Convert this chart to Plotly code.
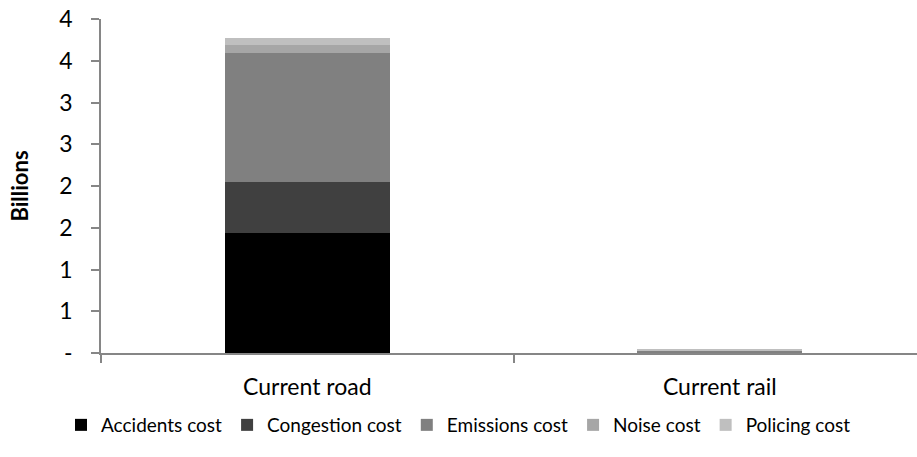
import plotly.graph_objects as go

# Cost categories (billions) for each transport option
modes = ["Current road", "Current rail"]
series_names = ["Accidents cost", "Congestion cost", "Emissions cost", "Noise cost", "Policing cost"]
accidents = [1.44, 0.002]
congestion = [0.61, 0.0]
emissions = [1.54, 0.022]
noise = [0.10, 0.006]
policing = [0.085, 0.008]
colors = ["#000000", "#404040", "#808080", "#A6A6A6", "#BFBFBF"]

y_ticks = [0, 0.5, 1, 1.5, 2, 2.5, 3, 3.5, 4]
y_tick_text = ["-", "1", "1", "2", "2", "3", "3", "4", "4"]

FONT = "Lato, Carlito, Calibri, sans-serif"
FS = 23
AXIS_GRAY = "#868686"

positions = list(range(len(modes)))
fig = go.Figure()
for name, vals, col in zip(series_names, [accidents, congestion, emissions, noise, policing], colors):
    fig.add_trace(go.Bar(
        x=positions, y=vals, name=name, width=0.4,
        marker=dict(color=col, line=dict(width=0)),
    ))

fig.update_layout(
    barmode="stack",
    width=917, height=457,
    margin=dict(l=101, r=0, t=19, b=104, autoexpand=False),
    plot_bgcolor="white", paper_bgcolor="white",
    font=dict(family=FONT, size=FS, color="#000000"),
    showlegend=True,
    legend=dict(
        orientation="h", x=0.5, xref="container", xanchor="center",
        y=0.07, yref="container", yanchor="middle",
        font=dict(size=19), itemsizing="constant",
        traceorder="normal", itemwidth=30, tracegroupgap=0,
        bgcolor="rgba(0,0,0,0)",
    ),
    xaxis=dict(
        range=[-0.5, 1.478], tickvals=positions, ticktext=modes,
        ticks="", showgrid=False, zeroline=False,
        showline=True, linecolor=AXIS_GRAY, linewidth=1.5,
        ticklabelstandoff=13,
        minor=dict(tick0=-0.5, dtick=1, ticks="outside", ticklen=8,
                   tickcolor=AXIS_GRAY, tickwidth=1.5, showgrid=False),
    ),
    yaxis=dict(
        range=[0, 4], tickvals=y_ticks, ticktext=y_tick_text,
        ticks="outside", ticklen=8, tickcolor=AXIS_GRAY, tickwidth=1.5,
        showgrid=False, zeroline=False,
        showline=True, linecolor=AXIS_GRAY, linewidth=1.5,
        ticklabelstandoff=14,
        title=dict(text="<b>Billions</b>", font=dict(size=FS - 1), standoff=25),
    ),
)

fig.write_html("out.html")
